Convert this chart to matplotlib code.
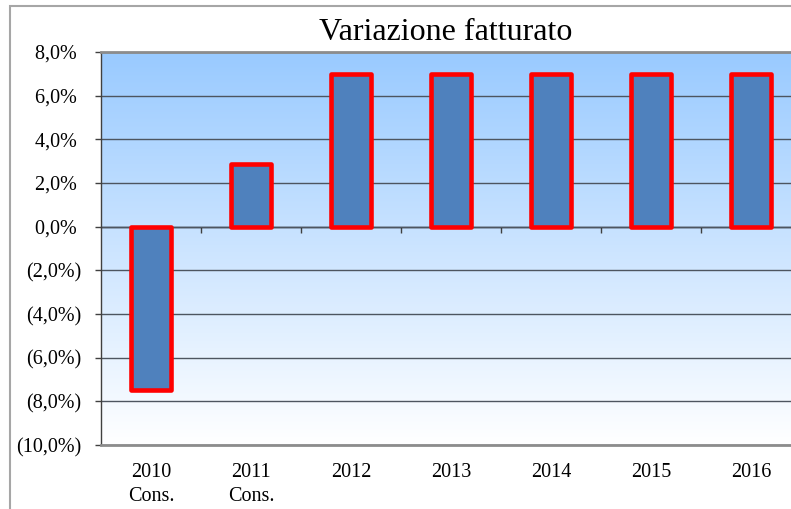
import numpy as np
import matplotlib
matplotlib.use("Agg")
from matplotlib import pyplot as plt
from matplotlib.patches import Rectangle

# data
years = ["2010\nCons.", "2011\nCons.", "2012", "2013", "2014", "2015", "2016"]
variazione = [-7.5, 2.85, 7.0, 7.0, 7.0, 7.0, 7.0]
y_ticks = [-10, -8, -6, -4, -2, 0, 2, 4, 6, 8]

plt.rcParams["font.family"] = ["Liberation Serif", "DejaVu Serif"]

W, H = 791, 509
fig = plt.figure(figsize=(W / 100, H / 100), dpi=100)

# outer chart border (cut off at right / bottom like the original)
fig.patches.append(Rectangle((10 / W, -0.1), 1.2, 1.1 - 6 / H, transform=fig.transFigure,
                             fill=False, edgecolor="#a6a6a6", linewidth=1.5))

ax = fig.add_axes([101 / W, (H - 445) / H, 700 / W, (445 - 52) / H])
ax.set_facecolor("none")

# gradient background, blue on top to white at bottom
top = np.array([153, 202, 255]) / 255
bot = np.array([255, 255, 255]) / 255
t = np.linspace(0, 1, 256)[:, None]
grad = (top * (1 - t) + bot * t)[:, None, :]
ax.imshow(grad, extent=[0, 1, 0, 1], transform=ax.transAxes, aspect="auto", zorder=0)

x = np.arange(len(years))
bars = ax.bar(x, variazione, width=0.4, color="#4f81bd", edgecolor="#ff0000",
              linewidth=3.3, zorder=3)
for b in bars:
    b.set_joinstyle("round")

ax.set_xlim(-0.5, len(years) - 0.5)
ax.set_ylim(-10, 8)
ax.set_yticks(y_ticks)


def fmt(v):
    s = f"{abs(v):.1f}".replace(".", ",") + "%"
    if v < 0:
        return "(" + s + ")"
    return s + " "


ax.set_yticklabels([fmt(v) for v in y_ticks])
ax.set_xticks(x)
ax.set_xticklabels(years, linespacing=1.35)

ax.yaxis.grid(True, color="#4d5560", linewidth=1.0, zorder=1)
ax.set_axisbelow(True)

ax.tick_params(axis="y", direction="out", length=4.5, width=1, color="#404040",
               labelsize=14.5, pad=9.5)
ax.tick_params(axis="x", length=0, labelsize=14.5, pad=13)

for side in ["top", "bottom"]:
    ax.spines[side].set_color("#8c8c8c")
    ax.spines[side].set_linewidth(2)
ax.spines["left"].set_color("#404040")
ax.spines["left"].set_linewidth(1)
ax.spines["right"].set_visible(False)

# zero line with category separators
sec = ax.secondary_xaxis(10 / 18)
sec.set_xticks(np.arange(len(years) - 1) + 0.5)
sec.set_xticklabels([])
sec.tick_params(direction="in", length=4.5, width=1, color="#404040")
for sp in sec.spines.values():
    sp.set_color("black")
    sp.set_linewidth(1)

fig.text(446 / W, 1 - 33 / H, "Variazione fatturato", ha="center", va="center",
         fontsize=23)

fig.savefig("out.png", dpi=100)
